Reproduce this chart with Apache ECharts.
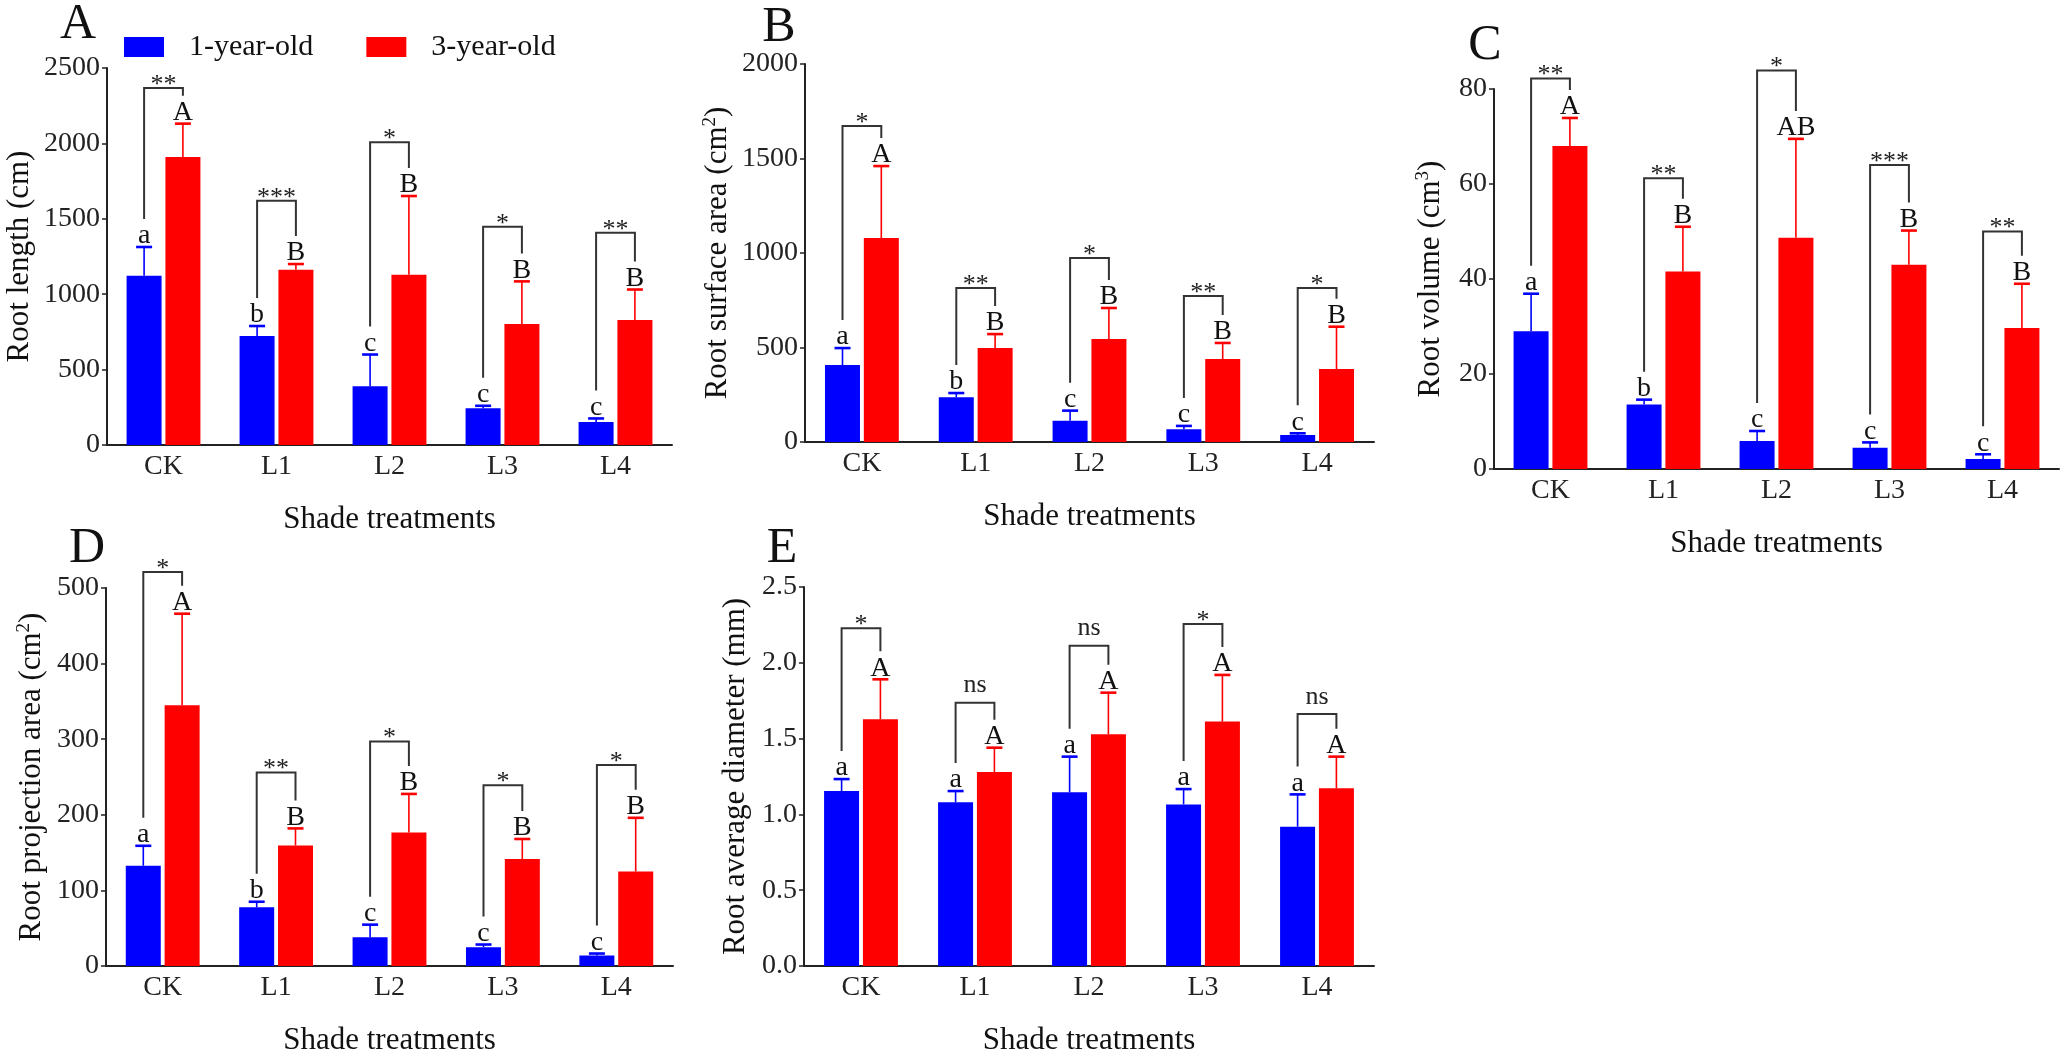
<!DOCTYPE html>
<html>
<head>
<meta charset="utf-8">
<script src="https://cdn.jsdelivr.net/npm/echarts@6/dist/echarts.min.js"></script>
<style>
  html, body { margin: 0; padding: 0; background: #fff; }
  #main { width: 2070px; height: 1057px; }
</style>
</head>
<body>
<div id="main"></div>
<script>
// shade treatments on the x axis
var cats = ['CK', 'L1', 'L2', 'L3', 'L4'];
var lowerLetters = ['a', 'b', 'c', 'c', 'c'];
var upperLetters = ['A', 'B', 'B', 'B', 'B'];

// A - root length (cm)
var lenOne = [1122, 722, 389, 244, 153];
var lenOneSD = [191, 67, 211, 16, 23];
var lenThree = [1909, 1162, 1129, 802, 829];
var lenThreeSD = [222, 38, 522, 283, 202];
var lenSig = ['**', '***', '*', '*', '**'];
var lenBracket = [2367, 1620, 2007, 1447, 1407];

// B - root surface area (cm2)
var areaOne = [407, 237, 113, 67, 37];
var areaOneSD = [90, 22, 53, 18, 9];
var areaThree = [1079, 497, 545, 439, 386];
var areaThreeSD = [381, 74, 164, 85, 224];
var areaSig = ['*', '**', '*', '**', '*'];
var areaBracket = [1672, 815, 973, 772, 815];

// C - root volume (cm3)
var volOne = [29.0, 13.6, 5.9, 4.5, 2.1];
var volOneSD = [7.9, 1.0, 2.1, 1.1, 1.0];
var volThree = [68.0, 41.6, 48.7, 43.0, 29.7];
var volThreeSD = [5.9, 9.4, 20.8, 7.2, 9.3];
var volSig = ['**', '**', '*', '***', '**'];
var volBracket = [82.2, 61.2, 83.9, 64.0, 50.0];
var volUpper = ['A', 'B', 'AB', 'B', 'B'];

// D - root projection area (cm2)
var projOne = [132.6, 77.6, 38, 24.8, 13.9];
var projOneSD = [26.4, 7.4, 16.7, 3.6, 2.6];
var projThree = [345, 159.4, 176.5, 141.4, 125];
var projThreeSD = [121, 22.6, 51.1, 26.6, 71];
var projSig = ['*', '**', '*', '*', '*'];
var projBracket = [521, 256, 297, 239, 266];

// E - root average diameter (mm)
var diaOne = [1.154, 1.080, 1.146, 1.066, 0.919];
var diaOneSD = [0.079, 0.074, 0.235, 0.101, 0.213];
var diaThree = [1.627, 1.280, 1.528, 1.612, 1.172];
var diaThreeSD = [0.264, 0.160, 0.275, 0.308, 0.209];
var diaSig = ['*', 'ns', 'ns', '*', 'ns'];
var diaBracket = [2.228, 1.737, 2.113, 2.256, 1.662];
var diaLower = ['a', 'a', 'a', 'a', 'a'];
var diaUpper = ['A', 'A', 'A', 'A', 'A'];

var FONT = 'Liberation Serif';
var BLUE = '#0000ff';
var RED = '#ff0000';
var INK = '#222';
var BAR_W = 35;
var SHIFT = 19.4;   // half of (bar + gap)

var panels = [
  { tag: 'A', tagPos: [78, 25], name: '{t|Root length (cm)}', max: 2500, step: 500, dec: 0,
    grid: { left: 107, top: 68, width: 565, height: 377 }, nameGap: 72,
    one: lenOne, oneSD: lenOneSD, three: lenThree, threeSD: lenThreeSD,
    lo: lowerLetters, up: upperLetters, sig: lenSig, bracket: lenBracket },
  { tag: 'B', tagPos: [779, 28], name: '{t|Root surface area (cm}{s|2}{t|)}', max: 2000, step: 500, dec: 0,
    grid: { left: 805, top: 64, width: 569, height: 378 }, nameGap: 71,
    one: areaOne, oneSD: areaOneSD, three: areaThree, threeSD: areaThreeSD,
    lo: lowerLetters, up: upperLetters, sig: areaSig, bracket: areaBracket },
  { tag: 'C', tagPos: [1485, 46], name: '{t|Root volume (cm}{s|3}{t|)}', max: 80, step: 20, dec: 0,
    grid: { left: 1494, top: 89, width: 565, height: 380 }, nameGap: 47,
    one: volOne, oneSD: volOneSD, three: volThree, threeSD: volThreeSD,
    lo: lowerLetters, up: volUpper, sig: volSig, bracket: volBracket },
  { tag: 'D', tagPos: [87, 549], name: '{t|Root projection area (cm}{s|2}{t|)}', max: 500, step: 100, dec: 0,
    grid: { left: 106, top: 588, width: 567, height: 379 }, nameGap: 58,
    one: projOne, oneSD: projOneSD, three: projThree, threeSD: projThreeSD,
    lo: lowerLetters, up: upperLetters, sig: projSig, bracket: projBracket },
  { tag: 'E', tagPos: [782, 549], name: '{t|Root average diameter (mm)}', max: 2.5, step: 0.5, dec: 1,
    grid: { left: 804, top: 587, width: 570, height: 379 }, nameGap: 53,
    one: diaOne, oneSD: diaOneSD, three: diaThree, threeSD: diaThreeSD,
    lo: diaLower, up: diaUpper, sig: diaSig, bracket: diaBracket }
];

// error bar + group letter, drawn above each bar
function errorRenderer(shift, color, letters) {
  return function (params, api) {
    var i = api.value(0), m = api.value(1), sd = api.value(2);
    var base = api.coord([i, m]);
    var top = api.coord([i, m + sd]);
    var x = base[0] + shift;
    return {
      type: 'group',
      children: [
        { type: 'line', shape: { x1: x, y1: base[1], x2: x, y2: top[1] },
          style: { stroke: color, lineWidth: 1.6 } },
        { type: 'line', shape: { x1: x - 8, y1: top[1], x2: x + 8, y2: top[1] },
          style: { stroke: color, lineWidth: 2.6 } },
        { type: 'text', x: x, y: top[1] + 3,
          style: { text: letters[params.dataIndex], fill: '#111', font: '28px "' + FONT + '"',
                   textAlign: 'center', textVerticalAlign: 'bottom' } }
      ]
    };
  };
}

// significance bracket between the two bars of one treatment
function bracketRenderer(sig) {
  return function (params, api) {
    var i = api.value(0);
    var c = api.coord([i, api.value(3)]);
    var bx = c[0] - SHIFT, rx = c[0] + SHIFT;
    var yl = c[1];
    var yb = api.coord([i, api.value(1)])[1] - 28;
    var yr = api.coord([i, api.value(2)])[1] - 28;
    var s = sig[params.dataIndex];
    var off = s === 'ns' ? 17 : 3;
    return {
      type: 'group',
      children: [
        { type: 'polyline', shape: { points: [[bx, yb], [bx, yl], [rx, yl], [rx, yr]] },
          style: { stroke: '#333', lineWidth: 2, fill: null } },
        { type: 'text', x: (bx + rx) / 2, y: yl - off,
          style: { text: s, fill: '#222', font: '26px "' + FONT + '"',
                   textAlign: 'center', textVerticalAlign: 'middle' } }
      ]
    };
  };
}

var option = {
  animation: false,
  backgroundColor: '#fff',
  textStyle: { fontFamily: FONT },
  legend: {
    data: ['1-year-old', '3-year-old'],
    left: 124, top: 32, padding: 0,
    itemWidth: 40, itemHeight: 20, itemGap: 53,
    icon: 'rect',
    textStyle: { fontFamily: FONT, fontSize: 30, color: '#111', padding: [0, 0, 0, 20] }
  },
  grid: [], xAxis: [], yAxis: [], series: [], graphic: []
};

panels.forEach(function (p, k) {
  option.grid.push(p.grid);
  option.xAxis.push({
    type: 'category', gridIndex: k, data: cats,
    name: 'Shade treatments', nameLocation: 'middle', nameGap: 59,
    nameTextStyle: { fontFamily: FONT, fontSize: 31, color: '#111' },
    axisLine: { lineStyle: { color: INK, width: 2 } },
    axisTick: { show: false },
    axisLabel: { fontFamily: FONT, fontSize: 28, color: '#222', margin: 8 }
  });
  option.yAxis.push({
    type: 'value', gridIndex: k, min: 0, max: p.max, interval: p.step,
    name: p.name, nameLocation: 'middle', nameRotate: 90, nameGap: p.nameGap,
    nameTextStyle: {
      rich: {
        t: { fontFamily: FONT, fontSize: 31, color: '#111' },
        s: { fontFamily: FONT, fontSize: 19, color: '#111', padding: [0, 0, 14, 0] }
      }
    },
    axisLine: { show: true, lineStyle: { color: INK, width: 2 } },
    axisTick: { show: true, length: 5, lineStyle: { color: INK, width: 1.5 } },
    splitLine: { show: false },
    axisLabel: {
      fontFamily: FONT, fontSize: 28, color: '#222', margin: 7,
      formatter: function (v) { return v.toFixed(p.dec); }
    }
  });
  option.series.push({
    type: 'bar', name: '1-year-old', xAxisIndex: k, yAxisIndex: k,
    data: p.one, barWidth: BAR_W, barGap: '11%', itemStyle: { color: BLUE }
  });
  option.series.push({
    type: 'bar', name: '3-year-old', xAxisIndex: k, yAxisIndex: k,
    data: p.three, barWidth: BAR_W, barGap: '11%', itemStyle: { color: RED }
  });
  option.series.push({
    type: 'custom', xAxisIndex: k, yAxisIndex: k, z: 5,
    renderItem: errorRenderer(-SHIFT, BLUE, p.lo),
    encode: { x: 0, y: [1, 2] },
    data: p.one.map(function (v, i) { return [i, v, p.oneSD[i]]; })
  });
  option.series.push({
    type: 'custom', xAxisIndex: k, yAxisIndex: k, z: 5,
    renderItem: errorRenderer(SHIFT, RED, p.up),
    encode: { x: 0, y: [1, 2] },
    data: p.three.map(function (v, i) { return [i, v, p.threeSD[i]]; })
  });
  option.series.push({
    type: 'custom', xAxisIndex: k, yAxisIndex: k, z: 6, clip: false,
    renderItem: bracketRenderer(p.sig),
    encode: { x: 0, y: [1, 2, 3] },
    data: p.one.map(function (v, i) {
      return [i, v + p.oneSD[i], p.three[i] + p.threeSD[i], p.bracket[i]];
    })
  });
  option.graphic.push({
    type: 'text', x: p.tagPos[0], y: p.tagPos[1],
    style: { text: p.tag, font: '50px "' + FONT + '"', fill: '#111',
             textAlign: 'center', textVerticalAlign: 'middle' }
  });
});

var chart = echarts.init(document.getElementById('main'));
chart.setOption(option);
</script>
</body>
</html>
